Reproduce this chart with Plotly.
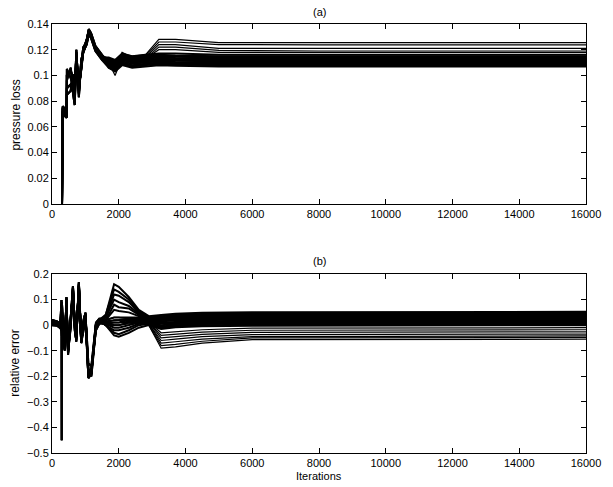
import plotly.graph_objects as go

# ---------------- Panel (a): pressure loss ----------------
x_a_early = [300, 301, 320, 440, 445, 560, 620, 680, 730, 805, 875, 940, 1040, 1100, 1170, 1300, 1500]
a_early_1 = [0, 0.070, 0.072, 0.068, 0.100, 0.104, 0.098, 0.080, 0.118, 0.086, 0.110, 0.122, 0.126, 0.134, 0.132, 0.121, 0.114]
a_early_2 = [0, 0.073, 0.075, 0.071, 0.090, 0.093, 0.088, 0.077, 0.114, 0.090, 0.106, 0.120, 0.128, 0.135, 0.131, 0.122, 0.115]
a_early_3 = [0, 0.068, 0.070, 0.067, 0.085, 0.088, 0.101, 0.084, 0.120, 0.083, 0.112, 0.118, 0.125, 0.133, 0.130, 0.120, 0.113]
a_early_4 = [0, 0.075, 0.076, 0.073, 0.096, 0.106, 0.094, 0.090, 0.116, 0.088, 0.108, 0.121, 0.127, 0.136, 0.133, 0.123, 0.116]
a_early_5 = [0, 0.071, 0.074, 0.069, 0.105, 0.098, 0.092, 0.086, 0.112, 0.092, 0.104, 0.119, 0.124, 0.132, 0.129, 0.119, 0.112]

x_a_late = [1700, 1890, 2100, 2400, 2800, 3200, 3700, 5000, 8000, 16000]
a_late_u1 = [0.113, 0.110, 0.117, 0.115, 0.116, 0.128, 0.128, 0.1255, 0.1255, 0.1255]
a_late_u2 = [0.112, 0.108, 0.116, 0.114, 0.115, 0.126, 0.126, 0.124, 0.1237, 0.1237]
a_late_u3 = [0.111, 0.104, 0.115, 0.113, 0.114, 0.124, 0.124, 0.121, 0.121, 0.121]
a_late_u4 = [0.110, 0.100, 0.114, 0.112, 0.113, 0.122, 0.122, 0.1195, 0.119, 0.119]
a_late_u5 = [0.112, 0.106, 0.118, 0.114, 0.113, 0.120, 0.120, 0.118, 0.118, 0.118]
a_late_b1 = [0.114, 0.112, 0.117, 0.115, 0.116, 0.117, 0.117, 0.116, 0.116, 0.116]
a_late_b2 = [0.113, 0.111, 0.116, 0.114, 0.115, 0.116, 0.1155, 0.115, 0.115, 0.115]
a_late_b3 = [0.112, 0.110, 0.115, 0.113, 0.114, 0.115, 0.1145, 0.114, 0.114, 0.114]
a_late_b4 = [0.111, 0.109, 0.114, 0.112, 0.113, 0.114, 0.1135, 0.113, 0.113, 0.113]
a_late_b5 = [0.110, 0.108, 0.113, 0.111, 0.112, 0.113, 0.1125, 0.112, 0.112, 0.112]
a_late_b6 = [0.109, 0.107, 0.112, 0.110, 0.111, 0.112, 0.1115, 0.111, 0.111, 0.111]
a_late_b7 = [0.108, 0.106, 0.111, 0.109, 0.110, 0.111, 0.1105, 0.110, 0.110, 0.110]
a_late_b8 = [0.107, 0.105, 0.110, 0.108, 0.109, 0.110, 0.1095, 0.109, 0.109, 0.109]
a_late_b9 = [0.106, 0.104, 0.109, 0.107, 0.108, 0.109, 0.1085, 0.108, 0.108, 0.108]
a_late_b10 = [0.106, 0.103, 0.108, 0.106, 0.107, 0.108, 0.1075, 0.107, 0.107, 0.107]
a_late_b11 = [0.112, 0.109, 0.1165, 0.1135, 0.1145, 0.1155, 0.115, 0.1145, 0.1145, 0.1145]
a_late_b12 = [0.110, 0.107, 0.1125, 0.1105, 0.1115, 0.1125, 0.112, 0.1115, 0.1115, 0.1115]
a_late_b13 = [0.108, 0.105, 0.1095, 0.1075, 0.1085, 0.1095, 0.109, 0.1085, 0.1085, 0.1085]

a_early_sets = [a_early_1, a_early_2, a_early_3, a_early_4, a_early_5]
a_upper_sets = [a_late_u1, a_late_u2, a_late_u3, a_late_u4, a_late_u5]
a_band_sets = [a_late_b1, a_late_b2, a_late_b3, a_late_b4, a_late_b5,
               a_late_b6, a_late_b7, a_late_b8, a_late_b9, a_late_b10,
               a_late_b11, a_late_b12, a_late_b13]

# ---------------- Panel (b): relative error ----------------
x_b_early = [0, 150, 250, 285, 290, 295, 383, 433, 481, 560, 628, 680, 727, 805, 875, 953, 1002, 1090, 1180, 1317, 1415]
b_early_1 = [0.02, 0.015, 0.005, 0.098, -0.45, 0.09, -0.097, 0.11, -0.116, 0.02, 0.153, 0.0, -0.065, 0.169, -0.07, 0.02, 0.049, -0.207, -0.19, 0.0, 0.015]
b_early_2 = [0.015, 0.01, 0.0, 0.06, 0.05, 0.04, -0.08, 0.09, -0.10, 0.01, 0.14, 0.01, -0.05, 0.155, -0.06, 0.01, 0.04, -0.19, -0.18, 0.005, 0.02]
b_early_3 = [0.01, 0.008, -0.005, 0.03, 0.02, 0.01, -0.09, 0.10, -0.11, 0.0, 0.15, -0.01, -0.06, 0.16, -0.065, 0.0, 0.03, -0.17, -0.2, -0.01, 0.01]
b_early_4 = [0.005, 0.003, -0.01, 0.0, -0.01, -0.02, -0.07, 0.08, -0.09, 0.03, 0.12, 0.02, -0.04, 0.14, -0.05, 0.025, 0.045, -0.15, -0.16, 0.01, 0.025]
b_early_5 = [0.0, -0.002, -0.012, -0.02, -0.03, -0.04, -0.1, 0.095, -0.105, -0.01, 0.145, -0.02, -0.055, 0.15, -0.07, -0.01, 0.02, -0.2, -0.17, -0.02, 0.005]
b_early_6 = [0.018, 0.012, 0.003, 0.08, 0.07, 0.06, -0.085, 0.105, -0.095, 0.015, 0.13, 0.005, -0.045, 0.165, -0.055, 0.015, 0.035, -0.18, -0.185, 0.0, 0.018]

x_b_late = [1610, 1860, 2000, 2300, 2600, 2900, 3270, 3700, 4500, 6000, 16000]
b_late_p1 = [0.04, 0.16, 0.15, 0.11, 0.06, 0.035, 0.04, 0.045, 0.048, 0.05, 0.052]
b_late_p2 = [0.04, 0.14, 0.13, 0.10, 0.055, 0.03, 0.035, 0.04, 0.044, 0.046, 0.048]
b_late_p3 = [0.03, 0.12, 0.115, 0.09, 0.05, 0.03, 0.03, 0.035, 0.04, 0.042, 0.044]
b_late_p4 = [0.03, 0.10, 0.09, 0.075, 0.045, 0.025, 0.028, 0.032, 0.036, 0.038, 0.04]
b_late_p5 = [0.02, 0.08, 0.07, 0.065, 0.04, 0.025, 0.025, 0.03, 0.032, 0.034, 0.036]
b_late_p6 = [0.02, 0.06, 0.055, 0.05, 0.035, 0.02, 0.02, 0.025, 0.028, 0.03, 0.032]
b_late_q1 = [0.02, 0.03, 0.03, 0.03, 0.03, 0.02, 0.02, 0.022, 0.024, 0.026, 0.028]
b_late_q2 = [0.015, 0.02, 0.02, 0.025, 0.025, 0.015, 0.015, 0.018, 0.02, 0.022, 0.024]
b_late_q3 = [0.01, 0.01, 0.01, 0.02, 0.02, 0.012, 0.01, 0.012, 0.015, 0.018, 0.02]
b_late_q4 = [0.01, 0.0, 0.0, 0.01, 0.015, 0.01, 0.005, 0.008, 0.011, 0.014, 0.016]
b_late_q5 = [0.005, -0.01, -0.01, 0.0, 0.01, 0.008, 0.0, 0.004, 0.007, 0.01, 0.012]
b_late_q6 = [0.0, -0.02, -0.02, -0.01, 0.005, 0.005, -0.005, 0.0, 0.004, 0.006, 0.008]
b_late_q7 = [0.0, -0.03, -0.035, -0.02, 0.0, 0.005, -0.01, -0.004, 0.0, 0.002, 0.004]
b_late_q8 = [0.0, -0.04, -0.045, -0.03, -0.01, 0.0, -0.015, -0.008, -0.004, -0.002, 0.0]
b_late_r1 = [0.01, 0.02, 0.02, 0.02, 0.015, 0.0, -0.09, -0.085, -0.07, -0.057, -0.055]
b_late_r2 = [0.01, 0.01, 0.01, 0.015, 0.01, 0.0, -0.08, -0.075, -0.063, -0.05, -0.048]
b_late_r3 = [0.02, 0.03, 0.03, 0.025, 0.02, 0.005, -0.07, -0.065, -0.055, -0.045, -0.042]
b_late_r4 = [0.0, 0.0, 0.0, 0.01, 0.01, 0.005, -0.06, -0.055, -0.045, -0.037, -0.035]
b_late_r5 = [0.01, 0.02, 0.02, 0.02, 0.015, 0.01, -0.05, -0.045, -0.036, -0.028, -0.026]
b_late_r6 = [0.0, 0.01, 0.01, 0.01, 0.01, 0.01, -0.04, -0.035, -0.027, -0.02, -0.018]
b_late_r7 = [0.0, 0.0, 0.0, 0.005, 0.01, 0.012, -0.03, -0.025, -0.018, -0.012, -0.01]

b_early_sets = [b_early_1, b_early_2, b_early_3, b_early_4, b_early_5, b_early_6]
b_band_sets = [b_late_p1, b_late_p2, b_late_p3, b_late_p4, b_late_p5, b_late_p6,
               b_late_q1, b_late_q2, b_late_q3, b_late_q4, b_late_q5, b_late_q6, b_late_q7, b_late_q8]
b_lower_sets = [b_late_r1, b_late_r2, b_late_r3, b_late_r4, b_late_r5, b_late_r6, b_late_r7]

# ---------------- Tick labels ----------------
x_ticks = [0, 2000, 4000, 6000, 8000, 10000, 12000, 14000, 16000]
x_ticktext = ["0", "2000", "4000", "6000", "8000", "10000", "12000", "14000", "16000"]
ya_ticks = [0, 0.02, 0.04, 0.06, 0.08, 0.1, 0.12, 0.14]
ya_ticktext = ["0", "0.02", "0.04", "0.06", "0.08", "0.1", "0.12", "0.14"]
yb_ticks = [-0.5, -0.4, -0.3, -0.2, -0.1, 0, 0.1, 0.2]
yb_ticktext = ["\u22120.5", "\u22120.4", "\u22120.3", "\u22120.2", "\u22120.1", "0", "0.1", "0.2"]

FONT = "Liberation Sans, Arial, Helvetica, sans-serif"
FS = 11

fig = go.Figure()
thin = dict(color="black", width=1.2)
thick = dict(color="black", width=2.0)

def add_line(x, y, style, xa, ya):
    fig.add_trace(go.Scatter(x=x, y=y, mode="lines", line=style, xaxis=xa, yaxis=ya,
                             showlegend=False, hoverinfo="skip"))

k = 0
for late in a_upper_sets:
    add_line(x_a_early + x_a_late, a_early_sets[k % 5] + late, thin, "x", "y")
    k += 1
for late in a_band_sets:
    add_line(x_a_early + x_a_late, a_early_sets[k % 5] + late, thick, "x", "y")
    k += 1

k = 0
for late in b_band_sets:
    add_line(x_b_early + x_b_late, b_early_sets[k % 6] + late, thick, "x2", "y2")
    k += 1
for late in b_lower_sets:
    add_line(x_b_early + x_b_late, b_early_sets[k % 6] + late, thin, "x2", "y2")
    k += 1

def axis_common():
    return dict(showline=True, linecolor="black", linewidth=1, mirror="ticks",
                ticks="inside", ticklen=5, tickcolor="black", tickwidth=1,
                showgrid=False, zeroline=False,
                tickfont=dict(family=FONT, size=FS, color="black"))

W, H = 613, 487
L, R, T, B = 52, 18, 24, 34
ph = H - T - B

fig.update_layout(
    width=W, height=H,
    margin=dict(l=L, r=R, t=T, b=B, pad=0),
    paper_bgcolor="white", plot_bgcolor="white",
    font=dict(family=FONT, size=FS, color="black"),
    xaxis=dict(**axis_common(), range=[0, 16000], tickvals=x_ticks, ticktext=x_ticktext,
               domain=[0, 1], anchor="y"),
    yaxis=dict(**axis_common(), range=[0, 0.14], tickvals=ya_ticks, ticktext=ya_ticktext,
               domain=[(453 - 204) / ph, 1.0], anchor="x"),
    xaxis2=dict(**axis_common(), range=[0, 16000], tickvals=x_ticks, ticktext=x_ticktext,
                domain=[0, 1], anchor="y2"),
    yaxis2=dict(**axis_common(), range=[-0.5, 0.2], tickvals=yb_ticks, ticktext=yb_ticktext,
                domain=[0, (453 - 274) / ph], anchor="x2"),
    annotations=[
        dict(text="(a)", xref="paper", yref="paper", x=0.5, y=(453 - 12) / ph,
             xanchor="center", yanchor="middle", showarrow=False, font=dict(size=FS)),
        dict(text="(b)", xref="paper", yref="paper", x=0.5, y=(453 - 261) / ph,
             xanchor="center", yanchor="middle", showarrow=False, font=dict(size=FS)),
        dict(text="Iterations", xref="paper", yref="paper", x=0.5, y=(453 - 476) / ph,
             xanchor="center", yanchor="middle", showarrow=False, font=dict(size=FS)),
        dict(text="pressure loss", xref="paper", yref="paper", x=(15 - L) / (W - L - R),
             y=(453 - 115) / ph, xanchor="center", yanchor="middle", textangle=-90,
             showarrow=False, font=dict(size=12)),
        dict(text="relative error", xref="paper", yref="paper", x=(14 - L) / (W - L - R),
             y=(453 - 363) / ph, xanchor="center", yanchor="middle", textangle=-90,
             showarrow=False, font=dict(size=12)),
    ],
)

fig.write_html("out.html", config={"displayModeBar": False})

# remove the browser's default page margin so the figure sits at the window's corner
with open("out.html", "r", encoding="utf-8") as f:
    html = f.read()
html = html.replace("<head>", "<head><style>html,body{margin:0;padding:0;overflow:hidden;}</style>", 1)
with open("out.html", "w", encoding="utf-8") as f:
    f.write(html)
